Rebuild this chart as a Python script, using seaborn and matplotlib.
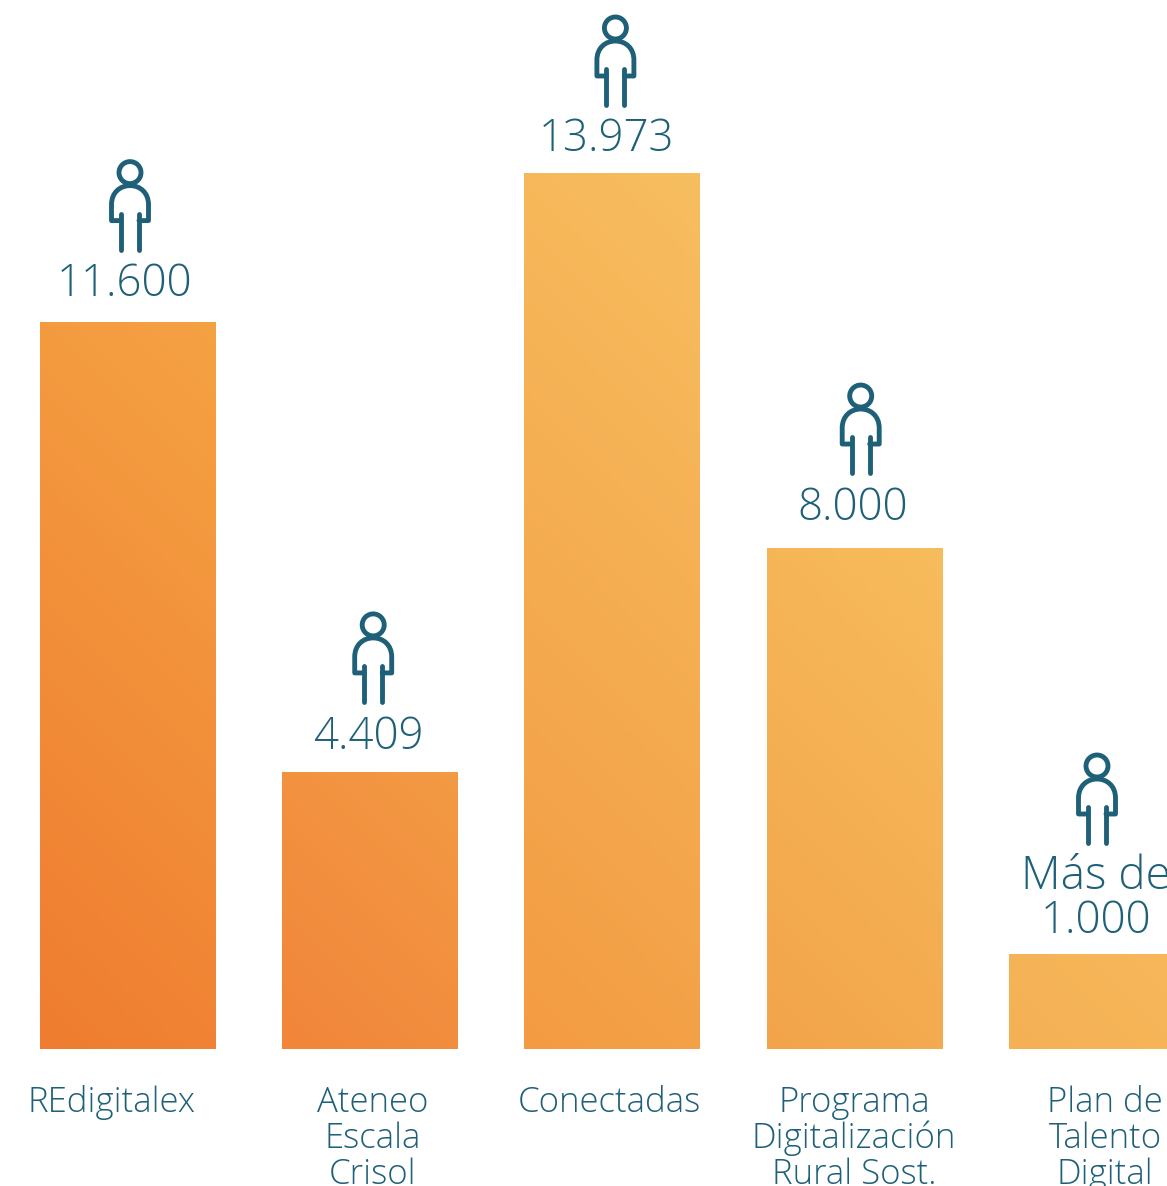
import numpy as np
import pandas as pd
import matplotlib
matplotlib.use("Agg")
import matplotlib.pyplot as plt
import matplotlib.transforms as mtrans
from matplotlib.colors import LinearSegmentedColormap
from matplotlib.patches import Circle, PathPatch
from matplotlib.path import Path
import seaborn as sns

# Datos del grafico
programas = ["REdigitalex", "Ateneo\nEscala\nCrisol", "Conectadas",
             "Programa\nDigitalización\nRural Sost.", "Plan de\nTalento\nDigital"]
alturas = [11600, 4409, 13973, 8000, 1517]  # el ultimo se lee de la barra, no de la etiqueta
etiquetas = ["11.600", "4.409", "13.973", "8.000", "Más de\n1.000"]

# Colores del degradado de cada barra (abajo izq. -> arriba der.)
color_ini = ["#EF7C30", "#F1853A", "#F39B43", "#F3A44B", "#F5B055"]
color_fin = ["#F5A243", "#F39A44", "#F7BE5F", "#F7BC5C", "#F7B85A"]

AZUL = "#1F6079"
FUENTE = "Open Sans"

# Ajustes en pixeles respecto al centro y la parte alta de cada barra
aj_icono_x = [2.8, 3.6, 3.4, 6.3, 0.2]
aj_icono_y = [150, 148, 146, 152, 188]
aj_valor_x = [-2.5, -1.5, -6, -1.5, -0.5]
aj_valor_y = [27, 24, 23, 28, 21]
aj_cat_x = [-16, 3.3, -2.5, -0.5, 8.5]

PASO = 242.4  # pixeles entre barras
PX_UNIDAD = 875 / 13973
X0 = 127.2  # pixel del centro de la primera barra
LIM_X = (-X0 / PASO, (1167 - X0) / PASO)
LIM_Y = (-137 / PX_UNIDAD, 1049 / PX_UNIDAD)

sns.set_theme(style="white")
plt.rcParams["font.family"] = [FUENTE, "DejaVu Sans"]

fig = plt.figure(figsize=(11.67, 11.86), dpi=100)
ax = fig.add_axes([0, 0, 1, 1])

df = pd.DataFrame({"programa": programas, "valor": alturas})
sns.barplot(data=df, x="programa", y="valor", width=175.3 / PASO, color=color_ini[0],
            saturation=1, ax=ax)
ax.axis("off")


def pos(i, valor, dx=0, dy=0):
    # transformacion en pixeles con origen en un punto de datos
    return mtrans.Affine2D().translate(dx, dy) + mtrans.ScaledTranslation(i, valor, ax.transData)


# degradado diagonal encima de cada barra
for i, barra in enumerate(ax.patches):
    cmap = LinearSegmentedColormap.from_list("g", [color_ini[i], color_fin[i]])
    ancho_px, alto_px = 175, max(barra.get_height() * PX_UNIDAD, 1)
    xx, yy = np.meshgrid(np.linspace(0, ancho_px, 120), np.linspace(0, alto_px, 240))
    t = (xx + yy) / (ancho_px + alto_px)
    ax.imshow(t, cmap=cmap, vmin=0, vmax=1, origin="lower", aspect="auto", interpolation="bilinear",
              extent=[barra.get_x(), barra.get_x() + barra.get_width(), 0, barra.get_height()],
              zorder=3)
ax.set_xlim(*LIM_X)
ax.set_ylim(*LIM_Y)

# silueta de la persona, en pixeles respecto al centro de la cabeza
cuerpo = Path(
    [(-9, -48), (-18.5, -48), (-18.5, -32), (-18.5, -20), (-10, -13), (0, -13),
     (10, -13), (18.5, -20), (18.5, -32), (18.5, -48), (9, -48)],
    [Path.MOVETO, Path.LINETO, Path.LINETO, Path.CURVE4, Path.CURVE4, Path.CURVE4,
     Path.CURVE4, Path.CURVE4, Path.CURVE4, Path.LINETO, Path.LINETO])
piernas = Path([(-9, -41), (-9, -77), (9, -41), (9, -77)],
               [Path.MOVETO, Path.LINETO, Path.MOVETO, Path.LINETO])

for i, valor in enumerate(alturas):
    tr = pos(i, valor, aj_icono_x[i], aj_icono_y[i])
    estilo = dict(fill=False, edgecolor=AZUL, linewidth=3.5, transform=tr, clip_on=False, zorder=4)
    ax.add_patch(Circle((0, 0), 11, **estilo))
    ax.add_patch(PathPatch(cuerpo, capstyle="round", joinstyle="round", **estilo))
    ax.add_patch(PathPatch(piernas, capstyle="round", **estilo))

    # valor encima de la barra
    lineas = etiquetas[i].split("\n")
    for j, txt in enumerate(reversed(lineas)):
        tam = 33 if txt.startswith("Más") else 31.5
        ax.text(0, 0, txt, transform=pos(i, valor, aj_valor_x[i], aj_valor_y[i] + j * 44),
                ha="center", va="baseline", fontsize=tam, color=AZUL, fontweight="light")

    # nombre del programa debajo
    for j, txt in enumerate(programas[i].split("\n")):
        ax.text(0, 0, txt, transform=pos(i, 0, aj_cat_x[i], -63.5 - j * 36),
                ha="center", va="baseline", fontsize=25, color=AZUL, fontweight="light")

fig.savefig("out.png", dpi=100, facecolor="white")
